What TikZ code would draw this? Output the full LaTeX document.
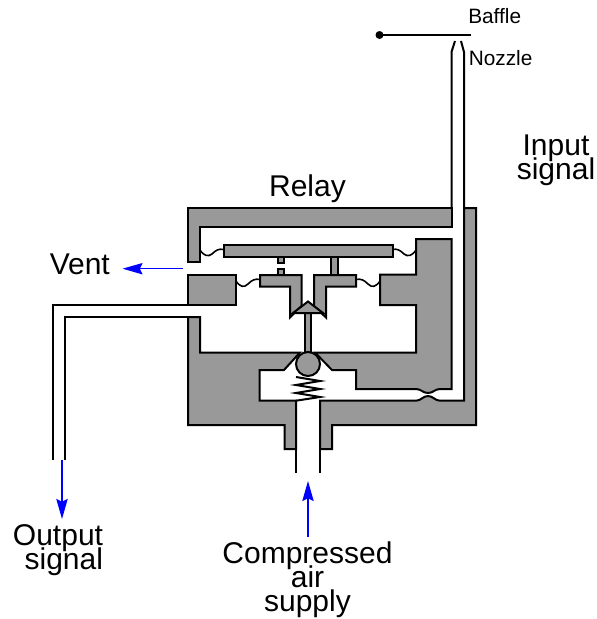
\documentclass[tikz,border=0pt]{standalone}
\usepackage{fontspec}
\setmainfont{Liberation Sans}
\usetikzlibrary{arrows.meta}
\newcommand{\bigtext}{\fontsize{22.5}{18}\selectfont\lineskiplimit=-50pt\relax}

\begin{document}
\begin{tikzpicture}[x=0.75pt, y=-0.75pt, >={Stealth[length=15pt, width=8.5pt, inset=2pt]},
    body/.style={draw=black, fill=black!40, line width=1.5pt, line join=miter},
    wall/.style={draw=black, line width=1.5pt},
    flex/.style={draw=black, line width=1.2pt},
    signal/.style={draw=blue, line width=1.1pt, ->},
    biglabel/.style={font=\bigtext, align=center, inner sep=0pt},
    smalllabel/.style={font=\fontsize{15.6}{18}\selectfont, anchor=west, inner sep=0pt}]
    \useasboundingbox (0,0) rectangle (597,619);
    % ==== RELAY BODY ====
    \draw[body] (188,208) -- (451.5,208) -- (451.5,227) -- (200,227) -- (200,262) -- (188,262) -- cycle;
    \draw[body] (188,275) -- (236,275) -- (236,305) -- (188,305) -- cycle;
    \draw[body] (464,208) -- (476,208) -- (476,425) -- (332,425) -- (332,449) -- (320,449)
        -- (320,400.7) -- (416,400.7) .. controls (421,400.7) and (423,396) .. (428,396)
        .. controls (433,396) and (435,400.7) .. (440,400.7) -- (464,400.7) -- cycle;
    \draw[body] (188,317) -- (200,317) -- (200,352.5) -- (300,352.5) -- (284,370) -- (259.5,370)
        -- (259.5,400.7) -- (296,400.7) -- (296,449) -- (284.5,449) -- (284.5,425) -- (188,425) -- cycle;
    \draw[body] (416,239) -- (451.5,239) -- (451.5,389) -- (440,389)
        .. controls (435,389) and (433,393) .. (428,393)
        .. controls (423,393) and (421,389) .. (416,389) -- (356,389) -- (356,370) -- (332,370)
        -- (315,352.5) -- (416,352.5) -- (416,305) -- (380,305) -- (380,274.5) -- (416,274.5) -- cycle;

    % ==== DIAPHRAGM PLATES ====
    \draw[body] (277.5,256) rectangle (284,262.5);
    \draw[body] (331,256) rectangle (338,275);
    \draw[body] (223.5,244.5) rectangle (392.5,256.5);
    \draw[body] (277.5,268.5) rectangle (284,275);
    \draw[body] (260,275) -- (301.5,275) -- (301.5,306) -- (290,317.5) -- (290,286.5) -- (260,286.5) -- cycle;
    \draw[body] (356,275) -- (314,275) -- (314,306) -- (326,317.5) -- (326,286.5) -- (356,286.5) -- cycle;
    \draw[flex] (200,250) .. controls (204,256) and (208,257) .. (212,254) .. controls (216,250) and (219,248.5) .. (223.5,249.5);
    \draw[flex] (236,281) .. controls (240,287) and (244,288) .. (248,284) .. controls (252,280) and (255,278.5) .. (260,279.5);
    \draw[flex] (392.5,249.5) .. controls (397,248.5) and (400,250) .. (404,254) .. controls (408,257) and (412,256) .. (416,250);
    \draw[flex] (356,279.5) .. controls (361,278.5) and (364,280) .. (368,284) .. controls (372,288) and (376,287) .. (380,281);

    % ==== VALVE ====
    \draw[body] (304.5,312) rectangle (311,353);
    \draw[body] (308,301.5) -- (323,313) -- (293,313) -- cycle;
    \draw[body] (308,364) circle (12);
    \draw[wall] (296,377) -- (320,381) -- (296,385) -- (320,389) -- (296,393) -- (320,397) -- (296,400.7);

    % ==== TUBES ====
    \draw[wall] (53,460) -- (53,305) -- (188,305);
    \draw[wall] (65,460) -- (65,317) -- (188,317);
    \draw[wall] (296,449) -- (296,473);
    \draw[wall] (320,449) -- (320,473);
    \draw[wall] (451.5,208) -- (451.5,52) -- (455,41);
    \draw[wall] (464,208) -- (464,52) -- (461,41);

    % ==== BAFFLE ====
    \fill (379.5,35) circle (4);
    \draw[wall] (379.5,35) -- (471,35);

    % ==== SIGNAL ARROWS ====
    \coordinate (ventin) at (183,268.7);
    \coordinate (ventout) at (122.5,268.7);
    \coordinate (outputin) at (62,460);
    \coordinate (outputout) at (62,519);
    \coordinate (supplyin) at (308,537);
    \coordinate (supplyout) at (308,481);
    \draw[signal] (ventin) -- (ventout);
    \draw[signal] (outputin) -- (outputout);
    \draw[signal] (supplyin) -- (supplyout);

    % ==== LABELS ====
    \node[smalllabel] (baffle) at (468,16.5) {Baffle};
    \node[smalllabel] (nozzle) at (468.5,58) {Nozzle};
    \node[biglabel] (input) at (556,160) {Input\\signal};
    \node[biglabel] (relay) at (307.5,189) {Relay};
    \node[biglabel, anchor=west] (vent) at (49.5,264) {Vent};
    \node[biglabel, align=right] (output) at (58,550) {Output\\signal};
    \node[biglabel] (supply) at (307.5,580) {Compressed\\air\\supply};
\end{tikzpicture}
\end{document}
